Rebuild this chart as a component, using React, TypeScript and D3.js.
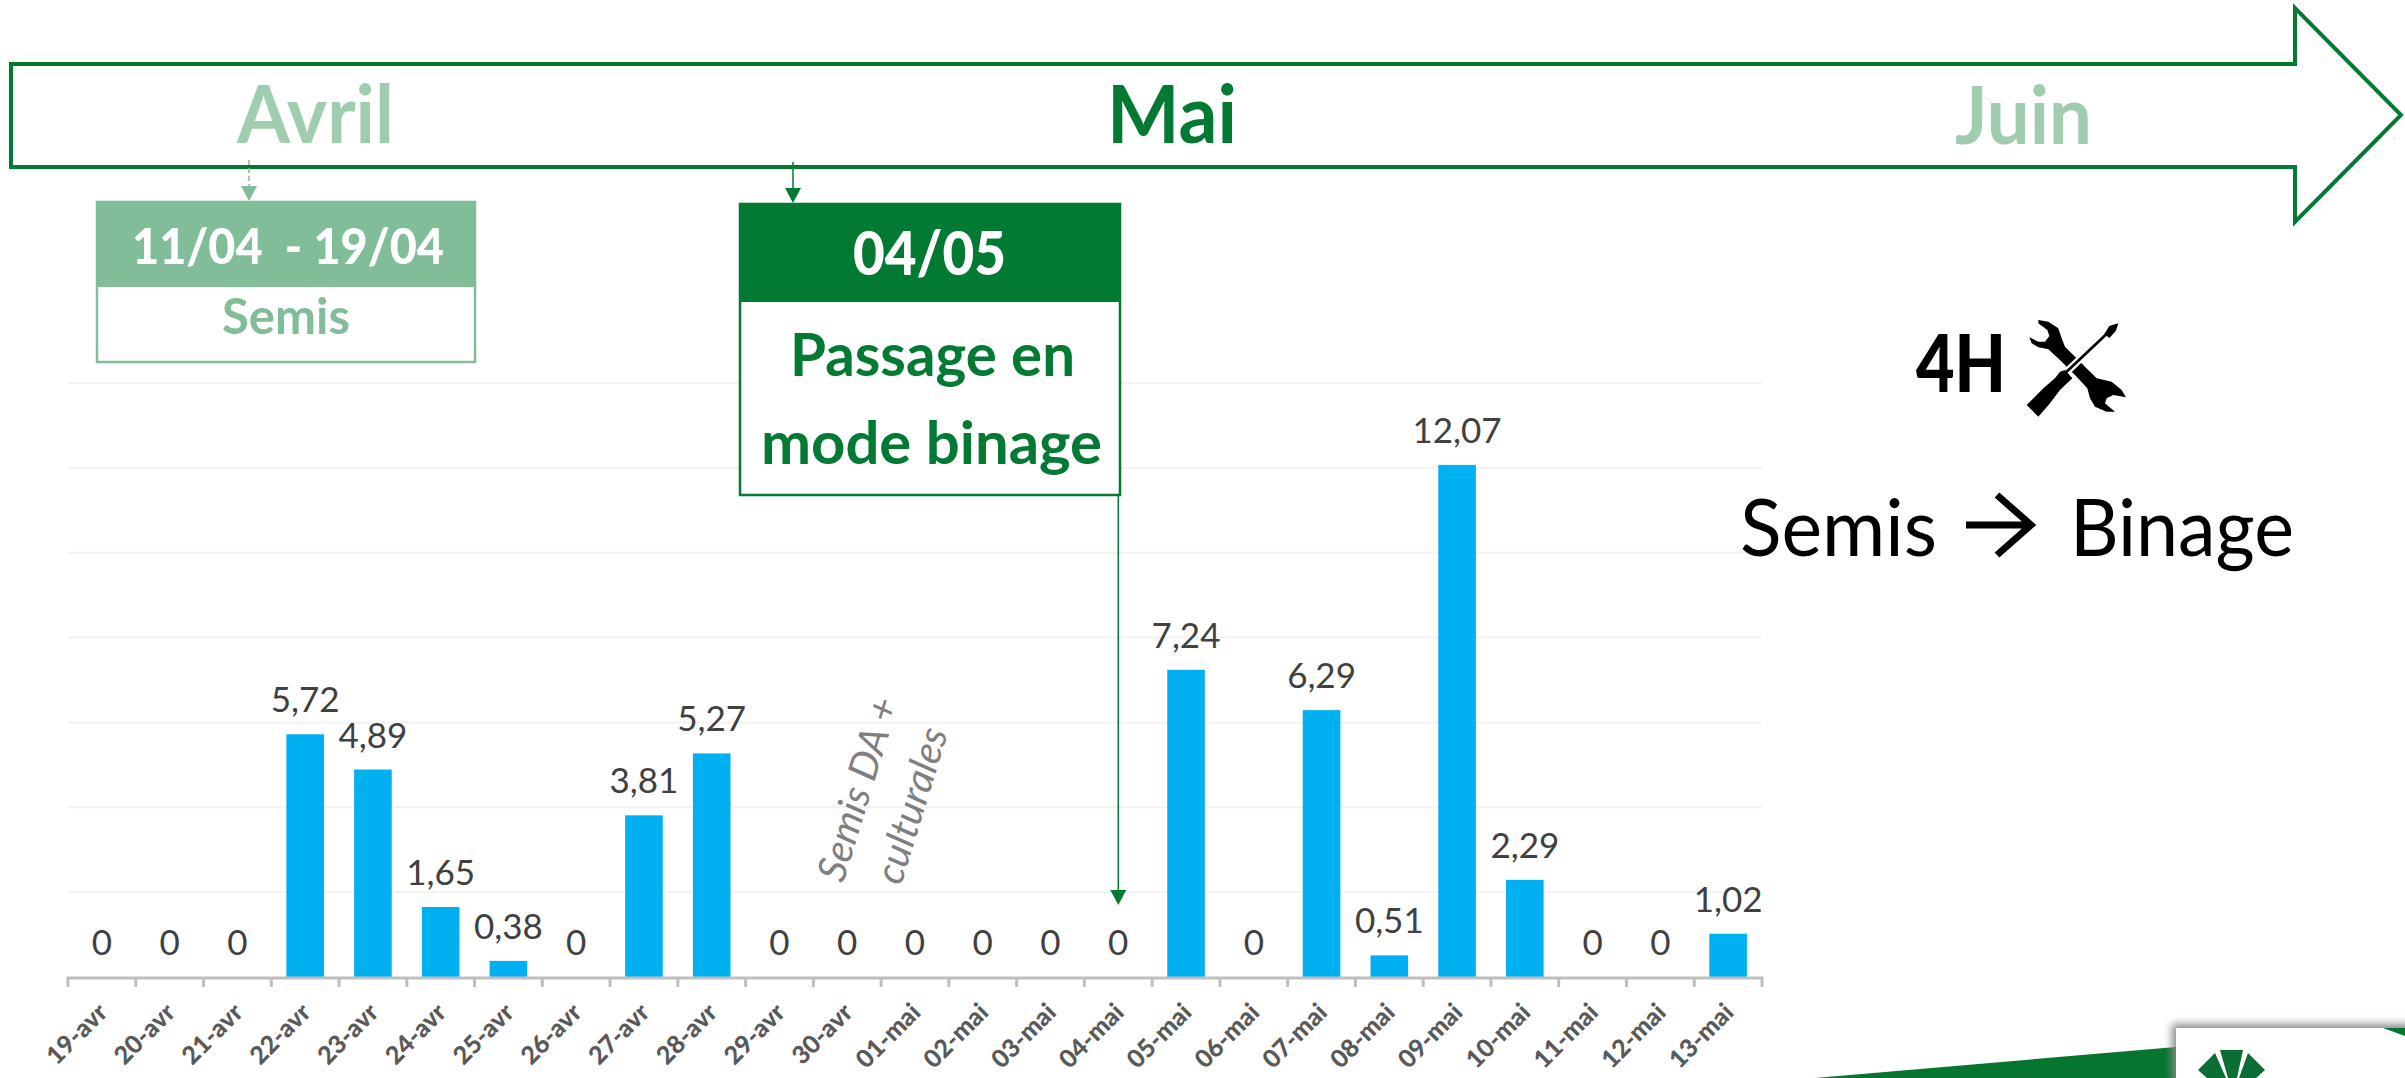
import { useEffect, useRef } from "react";
import * as d3 from "d3";

const days = [
  "19-avr", "20-avr", "21-avr", "22-avr", "23-avr", "24-avr", "25-avr", "26-avr", "27-avr",
  "28-avr", "29-avr", "30-avr", "01-mai", "02-mai", "03-mai", "04-mai", "05-mai", "06-mai",
  "07-mai", "08-mai", "09-mai", "10-mai", "11-mai", "12-mai", "13-mai",
];
const hours = [
  0, 0, 0, 5.72, 4.89, 1.65, 0.38, 0, 3.81, 5.27, 0, 0, 0, 0, 0, 0, 7.24, 0, 6.29, 0.51, 12.07,
  2.29, 0, 0, 1.02,
];

const DARK = "#037A33";
const MID = "#82BD9A";
const PALE = "#A0CDB0";
const FONT = "Lato, 'Open Sans', sans-serif";

const WIDTH = 2405;
const HEIGHT = 1078;

export default function App() {
  const svgRef = useRef<SVGSVGElement>(null);

  useEffect(() => {
    const svg = d3.select(svgRef.current);
    svg.selectAll("*").remove();

    const x = d3.scaleBand().domain(days).range([68, 1762]).paddingInner(0.445).paddingOuter(0.2225);
    const y = d3.scaleLinear().domain([0, 14]).range([977, 383]);
    const step = x.step();
    const edge = (i: number) => 68 + i * step;

    const defs = svg.append("defs");
    defs
      .append("filter")
      .attr("id", "logoShadow")
      .attr("x", "-10%")
      .attr("y", "-30%")
      .attr("width", "120%")
      .attr("height", "160%")
      .append("feGaussianBlur")
      .attr("stdDeviation", 4);

    // helper: text squeezed to the width measured on the picture
    const label = (
      txt: string,
      px: number,
      py: number,
      w: number,
      size: number,
      fill: string,
      weight = 700
    ) =>
      svg
        .append("text")
        .attr("x", px)
        .attr("y", py)
        .attr("textLength", w)
        .attr("lengthAdjust", "spacingAndGlyphs")
        .attr("font-family", FONT)
        .attr("font-size", size)
        .attr("font-weight", weight)
        .attr("fill", fill)
        .style("white-space", "pre")
        .text(txt);

    // Gridlines
    svg
      .append("g")
      .selectAll("line")
      .data(y.ticks(7).filter((d) => d > 0))
      .enter()
      .append("line")
      .attr("x1", 68)
      .attr("x2", 1762)
      .attr("y1", (d) => y(d))
      .attr("y2", (d) => y(d))
      .attr("stroke", "#F2F2F2")
      .attr("stroke-width", 2);

    // Bars
    svg
      .append("g")
      .selectAll("rect")
      .data(days)
      .enter()
      .append("rect")
      .attr("x", (d) => x(d)!)
      .attr("y", (_, i) => y(hours[i]))
      .attr("width", x.bandwidth())
      .attr("height", (_, i) => y(0) - y(hours[i]))
      .attr("fill", "#00B0F0");

    // Axis: line and ticks sit on band edges, as in the original
    const axis = svg.append("g");
    axis
      .append("line")
      .attr("x1", 66.5)
      .attr("x2", 1763.5)
      .attr("y1", 978)
      .attr("y2", 978)
      .attr("stroke", "#BFBFBF")
      .attr("stroke-width", 3);
    axis
      .selectAll("line.tick")
      .data(d3.range(days.length + 1))
      .enter()
      .append("line")
      .attr("class", "tick")
      .attr("x1", (i) => edge(i))
      .attr("x2", (i) => edge(i))
      .attr("y1", 978)
      .attr("y2", 987)
      .attr("stroke", "#BFBFBF")
      .attr("stroke-width", 3);

    // Category labels
    const xAxis = svg
      .append("g")
      .attr("transform", "translate(0,978)")
      .call(d3.axisBottom(x).tickSize(0));
    xAxis.select(".domain").remove();
    xAxis
      .selectAll("text")
      .attr("font-family", FONT)
      .attr("font-size", 25)
      .attr("font-weight", 900)
      .attr("fill", "#595959")
      .attr("text-anchor", "end")
      .attr("dy", null)
      .attr("y", null)
      .attr("transform", "translate(7,36) rotate(-45)");

    // Value labels
    svg
      .append("g")
      .selectAll("text")
      .data(days)
      .enter()
      .append("text")
      .attr("x", (d) => x(d)! + x.bandwidth() / 2)
      .attr("y", (_, i) => y(hours[i]) - 22)
      .attr("text-anchor", "middle")
      .attr("font-family", FONT)
      .attr("font-size", 35)
      .attr("fill", "#404040")
      .text((_, i) => String(hours[i]).replace(".", ","));

    // Timeline arrow
    svg
      .append("path")
      .attr("d", "M11,64 H2295 V8 L2401,115 L2295,222 V167 H11 Z")
      .attr("fill", "none")
      .attr("stroke", DARK)
      .attr("stroke-width", 4)
      .attr("stroke-linejoin", "miter");
    label("Avril", 237, 143, 157, 80, PALE);
    label("Mai", 1107, 143, 130, 80, DARK);
    label("Juin", 1955, 144, 137, 80, PALE);

    // Small arrows
    svg
      .append("line")
      .attr("x1", 249)
      .attr("x2", 249)
      .attr("y1", 160)
      .attr("y2", 190)
      .attr("stroke", MID)
      .attr("stroke-width", 1.5)
      .attr("stroke-dasharray", "5,3");
    svg.append("path").attr("d", "M241,186 H257 L249,201 Z").attr("fill", MID);
    svg
      .append("line")
      .attr("x1", 793)
      .attr("x2", 793)
      .attr("y1", 162)
      .attr("y2", 192)
      .attr("stroke", DARK)
      .attr("stroke-width", 1.5);
    svg.append("path").attr("d", "M785,188 H801 L793,203 Z").attr("fill", DARK);

    // Box 1
    svg
      .append("rect")
      .attr("x", 97)
      .attr("y", 202)
      .attr("width", 378)
      .attr("height", 160)
      .attr("fill", "#fff")
      .attr("stroke", MID)
      .attr("stroke-width", 2.5);
    svg.append("rect").attr("x", 96).attr("y", 201).attr("width", 380).attr("height", 86).attr("fill", MID);
    label("11/04  - 19/04", 132, 264, 312, 50, "#fff", 900);
    label("Semis", 222, 334, 128, 50, MID);

    // Box 2
    svg
      .append("rect")
      .attr("x", 740)
      .attr("y", 204)
      .attr("width", 380)
      .attr("height", 291)
      .attr("fill", "#fff")
      .attr("stroke", DARK)
      .attr("stroke-width", 2.5);
    svg.append("rect").attr("x", 739).attr("y", 203).attr("width", 382).attr("height", 99).attr("fill", DARK);
    label("04/05", 853, 275, 153, 60, "#fff", 900);
    label("Passage en", 790, 376, 285, 60, DARK);
    label("mode binage", 761, 464, 341, 60, DARK);

    // Pointer from box 2 down to 04-mai
    const pointerX = x("04-mai")! + x.bandwidth() / 2;
    svg
      .append("line")
      .attr("x1", pointerX)
      .attr("x2", pointerX)
      .attr("y1", 496)
      .attr("y2", 892)
      .attr("stroke", DARK)
      .attr("stroke-width", 1.5);
    svg
      .append("path")
      .attr("d", `M${pointerX - 8},890 H${pointerX + 8} L${pointerX},905 Z`)
      .attr("fill", DARK);

    // Rotated note
    const note = svg
      .append("text")
      .attr("font-family", FONT)
      .attr("font-size", 40)
      .attr("font-style", "italic")
      .attr("fill", "#7F7F7F")
      .attr("text-anchor", "middle");
    note.append("tspan").attr("x", 0).attr("y", 0).text("Semis DA +");
    note.append("tspan").attr("x", 0).attr("y", 56).text("culturales");
    note.attr("transform", "translate(871,793) rotate(-73)");

    // Right-hand caption
    label("4H", 1916, 392, 90, 80, "#000", 900);
    const tool = svg.append("g").attr("transform", "translate(2010,310) scale(0.3333)");
    tool
      .append("path")
      .attr(
        "d",
        "M85,30 L115,35 L145,55 L155,85 L165,110 L205,150 L225,170 L260,205 L305,215 L335,240 L348,262 L310,255 L290,265 L285,280 L315,305 L290,305 L255,290 L240,265 L232,235 L195,195 L150,150 L115,118 L85,112 L65,100 L58,82 L85,95 L105,95 L118,78 L112,60 L85,40 Z"
      )
      .attr("fill", "#000");
    tool
      .append("line")
      .attr("x1", 165)
      .attr("y1", 190)
      .attr("x2", 300)
      .attr("y2", 62)
      .attr("stroke", "#fff")
      .attr("stroke-width", 22);
    tool
      .append("line")
      .attr("x1", 165)
      .attr("y1", 190)
      .attr("x2", 300)
      .attr("y2", 62)
      .attr("stroke", "#000")
      .attr("stroke-width", 8);
    tool.append("path").attr("d", "M283,72 L298,48 L325,40 L318,62 L298,84 Z").attr("fill", "#000");
    tool
      .append("path")
      .attr("d", "M150,185 L165,180 L187,205 L150,240 L120,280 L85,320 L50,285 L100,235 L135,205 Z")
      .attr("fill", "#000");

    label("Semis", 1740, 556, 197, 80, "#000", 400);
    svg
      .append("path")
      .attr("d", "M1966,525 H2028 M1997,495 L2031,525 L1997,555")
      .attr("fill", "none")
      .attr("stroke", "#000")
      .attr("stroke-width", 7);
    label("Binage", 2070, 556, 224, 80, "#000", 400);

    // Footer band and logo
    svg.append("path").attr("d", "M1815,1078 L2176,1047 V1078 Z").attr("fill", "#05752F");
    svg
      .append("rect")
      .attr("x", 2172)
      .attr("y", 1024)
      .attr("width", 245)
      .attr("height", 60)
      .attr("fill", "#888")
      .attr("filter", "url(#logoShadow)");
    svg.append("rect").attr("x", 2176).attr("y", 1028).attr("width", 229).attr("height", 50).attr("fill", "#fff");
    svg.append("path").attr("d", "M2383,1028 L2405,1036 V1028 Z").attr("fill", "#05752F");
    svg
      .append("path")
      .attr(
        "d",
        "M2220,1050 H2243 L2237,1078 H2228 Z M2215,1053 L2198,1070 L2207,1078 H2226 Z M2248,1053 L2265,1070 L2256,1078 H2239 Z"
      )
      .attr("fill", "#0B6E35");
  }, []);

  return (
    <svg
      ref={svgRef}
      width={WIDTH}
      height={HEIGHT}
      style={{ position: "absolute", left: 0, top: 0, background: "#fff" }}
    />
  );
}
